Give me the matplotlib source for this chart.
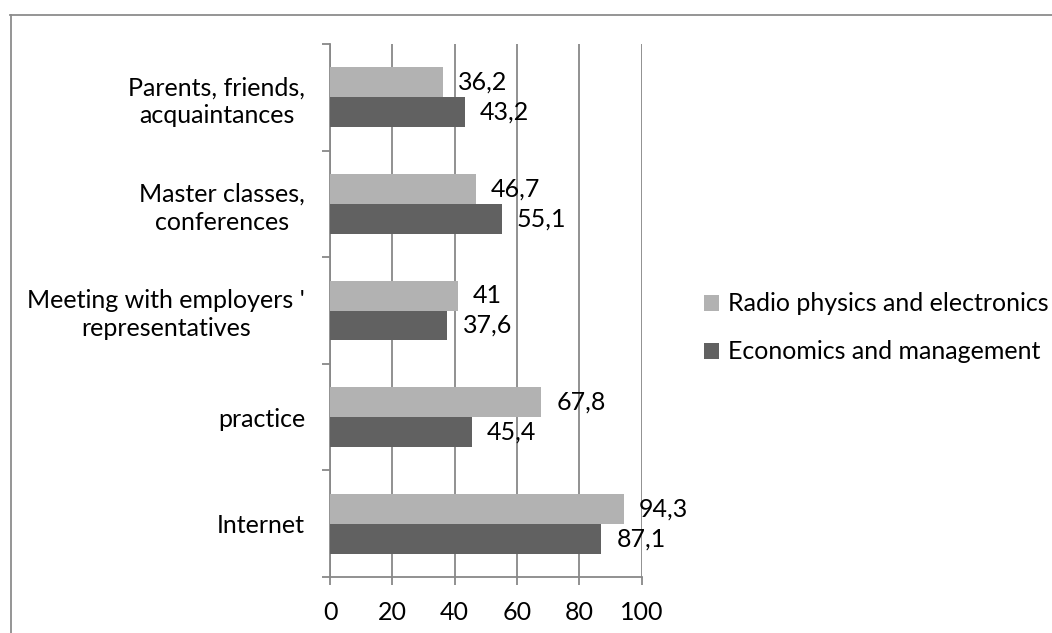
import matplotlib
matplotlib.use("Agg")
import matplotlib.pyplot as plt
from matplotlib.lines import Line2D
from matplotlib.patches import Patch
import numpy as np

categories = [
    "Internet",
    "practice",
    "Meeting with employers '\nrepresentatives",
    "Master classes,\nconferences",
    "Parents, friends,\nacquaintances",
]
series_names = ["Radio physics and electronics", "Economics and management"]
radio_physics = [94.3, 67.8, 41, 46.7, 36.2]
economics = [87.1, 45.4, 37.6, 55.1, 43.2]
x_ticks = [0, 20, 40, 60, 80, 100]

LIGHT = "#b2b2b2"
DARK = "#616161"
AXIS = "#888888"
FONT = "Lato"
FS = 18

W, H, DPI = 1052, 633, 100
fig = plt.figure(figsize=(W / DPI, H / DPI), dpi=DPI)
fig.patch.set_facecolor("white")

# plot area in pixel units converted to figure fractions
x0, x1 = 330, 641.7
y_top, y_bot = 44, 577
ax = fig.add_axes([x0 / W, 1 - y_bot / H, (x1 - x0) / W, (y_bot - y_top) / H])

y = np.arange(len(categories))
bh = 0.281
bars_light = ax.barh(y + bh / 2, radio_physics, height=bh, color=LIGHT, zorder=3)
bars_dark = ax.barh(y - bh / 2, economics, height=bh, color=DARK, zorder=3)


def fmt(v):
    return f"{v:g}".replace(".", ",")


for bars, vals in ((bars_light, radio_physics), (bars_dark, economics)):
    for b, v in zip(bars, vals):
        ax.annotate(fmt(v), xy=(v, b.get_y() + b.get_height() / 2),
                    xytext=(11, 0), textcoords="offset points",
                    ha="left", va="center", fontsize=FS, family=FONT,
                    color="black", zorder=4)

ax.set_xlim(0, 100)
ax.set_ylim(-0.5, len(categories) - 0.5)
ax.set_xticks(x_ticks)
ax.set_xticklabels([str(t) for t in x_ticks], fontsize=FS, family=FONT)
ax.grid(axis="x", color=AXIS, linewidth=1.3, zorder=0)

ax.set_yticks(y)
ax.set_yticklabels(categories, fontsize=FS, family=FONT, multialignment="center",
                   linespacing=1.25)
ax.set_yticks(np.arange(len(categories) + 1) - 0.5, minor=True)
ax.tick_params(axis="y", which="major", length=0, pad=18)
ax.tick_params(axis="y", which="minor", length=6, width=1.3, color=AXIS, direction="out")
ax.tick_params(axis="x", length=6, width=1.3, color=AXIS, direction="out", pad=11)

for side in ("top", "right"):
    ax.spines[side].set_visible(False)
for side in ("left", "bottom"):
    ax.spines[side].set_color(AXIS)
    ax.spines[side].set_linewidth(1.3)

handles = [Patch(facecolor=LIGHT, edgecolor="none"), Patch(facecolor=DARK, edgecolor="none")]
fig.legend(handles, series_names, loc="center left",
           bbox_to_anchor=(704 / W, 1 - 328 / H), frameon=False,
           prop={"family": FONT, "size": FS}, handlelength=0.6, handleheight=0.6,
           handletextpad=0.35, labelspacing=1.0, borderaxespad=0, borderpad=0)

# chart area border (top and left edges)
fig.add_artist(Line2D([10 / W, 1], [1 - 15 / H, 1 - 15 / H], transform=fig.transFigure,
                      color="#8c8c8c", linewidth=1.3))
fig.add_artist(Line2D([10.5 / W, 10.5 / W], [0, 1 - 15 / H], transform=fig.transFigure,
                      color="#8c8c8c", linewidth=1.3))

fig.savefig("out.png", dpi=DPI, facecolor="white")
